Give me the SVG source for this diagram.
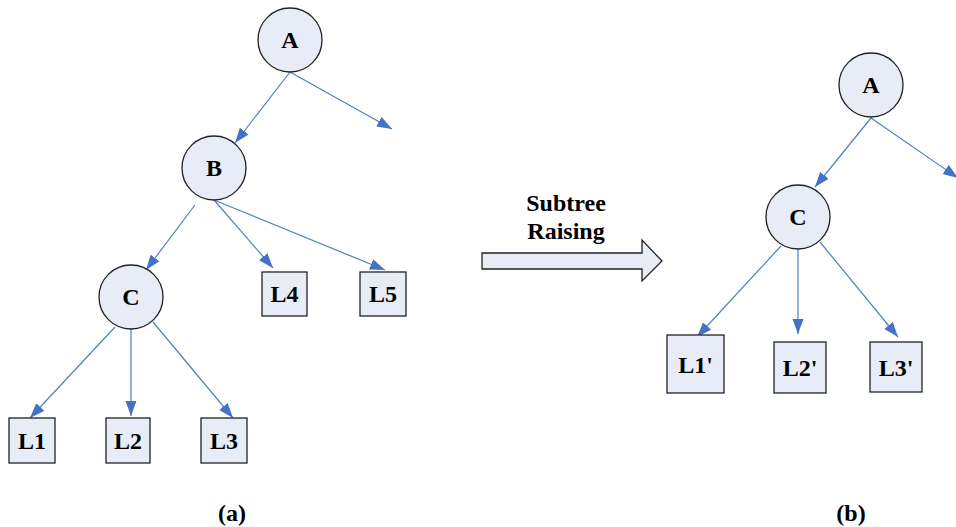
<svg xmlns="http://www.w3.org/2000/svg" width="956" height="527" viewBox="0 0 956 527">
<style>
.n{fill:#E8ECF7;stroke:#222;stroke-width:1.3}
text{font-family:'Liberation Serif','Times New Roman',Times,serif;font-weight:bold;font-size:24px;text-anchor:middle;fill:#000}
.e{stroke:#4F81BD;stroke-width:1.2;fill:none;marker-end:url(#ah)}
</style>
<defs>
<marker id="ah" markerUnits="userSpaceOnUse" markerWidth="16" markerHeight="12" refX="15" refY="6" orient="auto">
<path d="M0,0.5 L15,6 L0,11.5 z" fill="#4472C4"/>
</marker>
</defs>
<rect width="956" height="527" fill="#fff"/>
<g id="connectors">
<line class="e" x1="290" y1="72" x2="235" y2="143"/>
<line class="e" x1="290" y1="72" x2="392" y2="129"/>
<line class="e" x1="195" y1="205" x2="146" y2="270"/>
<line class="e" x1="214" y1="200" x2="273" y2="268"/>
<line class="e" x1="214" y1="200" x2="385" y2="270"/>
<line class="e" x1="115" y1="327" x2="30" y2="418"/>
<line class="e" x1="131" y1="329" x2="131" y2="416"/>
<line class="e" x1="153" y1="322" x2="233" y2="418"/>
<line class="e" x1="871" y1="118" x2="815" y2="187"/>
<line class="e" x1="871" y1="118" x2="958" y2="178"/>
<line class="e" x1="781" y1="246" x2="697" y2="337"/>
<line class="e" x1="798" y1="249" x2="798" y2="334"/>
<line class="e" x1="820" y1="242" x2="898" y2="337"/>
</g>
<g id="A1"><circle class="n" cx="290" cy="40" r="32"/><text x="290" y="48">A</text></g>
<g id="B"><circle class="n" cx="214" cy="168" r="32"/><text x="214" y="176">B</text></g>
<g id="C1"><circle class="n" cx="131" cy="297" r="32"/><text x="131" y="305">C</text></g>
<g id="L4"><rect class="n" x="262" y="272" width="45" height="44"/><text x="284.5" y="302">L4</text></g>
<g id="L5"><rect class="n" x="360" y="272" width="46" height="44"/><text x="383" y="302">L5</text></g>
<g id="L1"><rect class="n" x="9" y="418" width="46" height="45"/><text x="32" y="449">L1</text></g>
<g id="L2"><rect class="n" x="106" y="418" width="44" height="45"/><text x="128" y="449">L2</text></g>
<g id="L3"><rect class="n" x="201" y="418" width="46" height="45"/><text x="224" y="449">L3</text></g>
<g id="raise">
<polygon class="n" points="482,253 642,253 642,240 662,261 642,281 642,269 482,269"/>
<text x="566" y="211">Subtree</text>
<text x="566" y="239">Raising</text>
</g>
<g id="A2"><circle class="n" cx="871" cy="85" r="32"/><text x="871" y="93">A</text></g>
<g id="C2"><circle class="n" cx="798" cy="217" r="32"/><text x="798" y="225">C</text></g>
<g id="L1p"><rect class="n" x="667" y="335" width="57" height="58"/><text x="695.5" y="373">L1'</text></g>
<g id="L2p"><rect class="n" x="774" y="342" width="52" height="51"/><text x="800" y="376">L2'</text></g>
<g id="L3p"><rect class="n" x="870" y="342" width="52" height="50"/><text x="896" y="376">L3'</text></g>
<g id="la"><text x="232" y="521">(a)</text></g>
<g id="lb"><text x="851" y="521">(b)</text></g>
</svg>
